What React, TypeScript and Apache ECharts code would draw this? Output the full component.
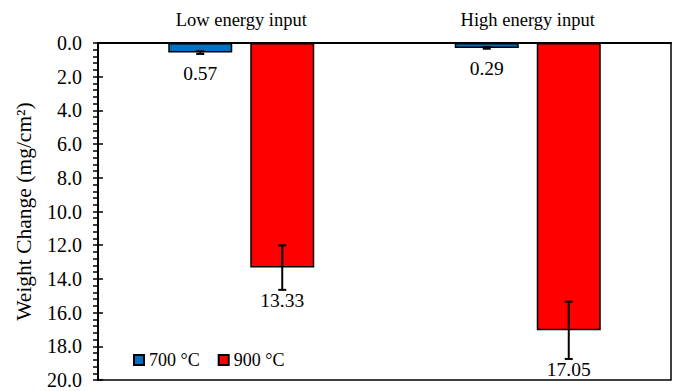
import React, { useEffect, useRef } from "react";
import * as echarts from "echarts";

const categories = ["Low energy input", "High energy input"];
const seriesNames = ["700 °C", "900 °C"];
const values700 = [0.57, 0.29];
const values900 = [13.33, 17.05];
const err700 = [0.08, 0.05];
const err900 = [1.32, 1.7];
const yTicks = [0, 2, 4, 6, 8, 10, 12, 14, 16, 18, 20];

const FONT = "Liberation Serif";
const BAR_W = 64;
const GAP = 18;
const OFF = (BAR_W + GAP) / 2;

function errSeries(name: string, vals: number[], errs: number[], offset: number) {
  return {
    type: "custom",
    name,
    z: 5,
    clip: false,
    data: vals.map((v, i) => [i, v, errs[i]]),
    encode: { x: 0, y: 1 },
    renderItem: (_p: any, api: any) => {
      const cat = api.value(0);
      const v = api.value(1);
      const e = api.value(2);
      const c = api.coord([cat, v]);
      const x = c[0] + offset;
      const yTop = api.coord([cat, v - e])[1];
      const yBot = api.coord([cat, v + e])[1];
      const cap = 4;
      const labelY = Math.max(yBot + 1, c[1] + 11);
      return {
        type: "group",
        children: [
          { type: "line", shape: { x1: x, y1: yTop, x2: x, y2: yBot }, style: { stroke: "#000", lineWidth: 2 } },
          { type: "line", shape: { x1: x - cap, y1: yTop, x2: x + cap, y2: yTop }, style: { stroke: "#000", lineWidth: 2 } },
          { type: "line", shape: { x1: x - cap, y1: yBot, x2: x + cap, y2: yBot }, style: { stroke: "#000", lineWidth: 2 } },
          {
            type: "text",
            x,
            y: labelY,
            style: {
              text: v.toFixed(2),
              fill: "#000",
              fontFamily: FONT,
              fontSize: 19.5,
              align: "center",
              verticalAlign: "top",
            },
          },
        ],
      };
    },
  };
}

export default function App() {
  const ref = useRef<HTMLDivElement>(null);
  useEffect(() => {
    if (!ref.current) return;
    const chart = echarts.init(ref.current, undefined, { renderer: "svg" });
    chart.setOption({
      animation: false,
      backgroundColor: "#fff",
      textStyle: { fontFamily: FONT },
      grid: {
        left: 98,
        right: 7,
        top: 43,
        bottom: 11,
        show: true,
        borderColor: "#000",
        borderWidth: 1.5,
        backgroundColor: "transparent",
      },
      legend: {
        data: seriesNames,
        left: 128,
        top: 346,
        itemWidth: 10,
        itemHeight: 10,
        itemGap: 18,
        icon: "rect",
        textStyle: { fontFamily: FONT, fontSize: 18, color: "#000" },
      },
      xAxis: {
        type: "category",
        data: categories,
        position: "top",
        axisLine: { show: true, lineStyle: { color: "#000", width: 2 } },
        axisTick: { show: false },
        axisLabel: { fontFamily: FONT, fontSize: 18.5, color: "#000", margin: 14 },
      },
      yAxis: [
        {
          type: "value",
          inverse: true,
          min: 0,
          max: 20,
          interval: 2,
          name: "Weight Change (mg/cm²)",
          nameLocation: "middle",
          nameGap: 63,
          nameTextStyle: { fontFamily: FONT, fontSize: 21.5, color: "#000" },
          axisLine: { show: true, lineStyle: { color: "#000", width: 2 } },
          axisTick: { show: true, length: 5, lineStyle: { color: "#000", width: 1.5 } },
          minorTick: { show: true, splitNumber: 5, length: 5, lineStyle: { color: "#000", width: 1.5 } },
          splitLine: { show: false },
          axisLabel: {
            fontFamily: FONT,
            fontSize: 20,
            color: "#000",
            margin: 16,
            formatter: (v: number) => (yTicks.includes(v) ? v.toFixed(1) : ""),
          },
        },
        {
          type: "value",
          inverse: true,
          min: 0,
          max: 20,
          interval: 2,
          position: "left",
          axisLine: { show: false },
          axisTick: { show: true, inside: true, length: 5, lineStyle: { color: "#000", width: 1.5 } },
          axisLabel: { show: false },
          splitLine: { show: false },
        },
      ],
      series: [
        {
          type: "bar",
          name: seriesNames[0],
          data: values700,
          barWidth: BAR_W,
          barGap: `${(GAP / BAR_W) * 100}%`,
          itemStyle: { color: "#0070C0", borderColor: "#000", borderWidth: 1.5 },
        },
        {
          type: "bar",
          name: seriesNames[1],
          data: values900,
          barWidth: BAR_W,
          itemStyle: { color: "#FF0000", borderColor: "#000", borderWidth: 1.5 },
        },
        errSeries("err700", values700, err700, -OFF),
        errSeries("err900", values900, err900, OFF),
      ],
    });
    return () => chart.dispose();
  }, []);
  return <div ref={ref} style={{ position: "fixed", left: 0, top: 0, width: 678, height: 391 }} />;
}
